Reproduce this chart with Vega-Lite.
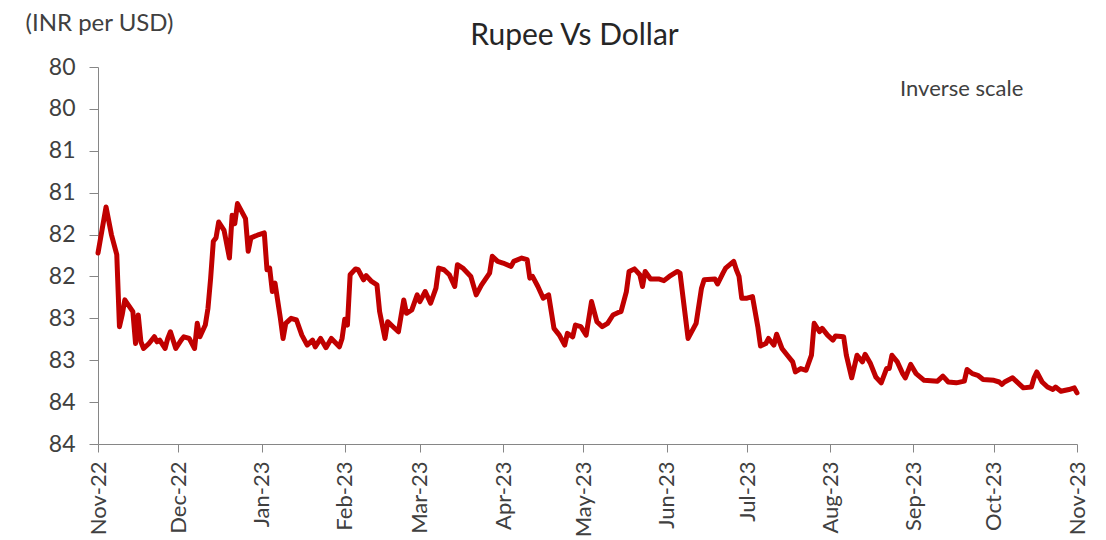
{
  "$schema": "https://vega.github.io/schema/vega-lite/v6.json",
  "autosize": "none",
  "width": 979,
  "height": 377,
  "padding": {"left": 98, "top": 67, "right": 29, "bottom": 96},
  "background": "white",
  "config": {
    "view": {"stroke": null},
    "font": "Lato"
  },
  "title": {
    "text": "Rupee Vs Dollar",
    "anchor": "middle",
    "fontSize": 30,
    "fontWeight": "normal",
    "color": "#262626",
    "font": "Lato",
    "dx": -13,
    "offset": 0,
    "dy": 40
  },
  "datasets": {
    "fx": [
      {"date": "2022-11-01", "rate": 81.72},
      {"date": "2022-11-04", "rate": 81.17},
      {"date": "2022-11-06", "rate": 81.50},
      {"date": "2022-11-08", "rate": 81.74},
      {"date": "2022-11-09", "rate": 82.60},
      {"date": "2022-11-10", "rate": 82.46},
      {"date": "2022-11-11", "rate": 82.28},
      {"date": "2022-11-14", "rate": 82.42},
      {"date": "2022-11-15", "rate": 82.80},
      {"date": "2022-11-16", "rate": 82.46},
      {"date": "2022-11-17", "rate": 82.78},
      {"date": "2022-11-18", "rate": 82.86},
      {"date": "2022-11-20", "rate": 82.80},
      {"date": "2022-11-22", "rate": 82.72},
      {"date": "2022-11-23", "rate": 82.78},
      {"date": "2022-11-24", "rate": 82.76},
      {"date": "2022-11-26", "rate": 82.86},
      {"date": "2022-11-27", "rate": 82.74},
      {"date": "2022-11-28", "rate": 82.66},
      {"date": "2022-11-30", "rate": 82.86},
      {"date": "2022-12-02", "rate": 82.76},
      {"date": "2022-12-03", "rate": 82.72},
      {"date": "2022-12-05", "rate": 82.74},
      {"date": "2022-12-07", "rate": 82.86},
      {"date": "2022-12-08", "rate": 82.56},
      {"date": "2022-12-09", "rate": 82.72},
      {"date": "2022-12-11", "rate": 82.58},
      {"date": "2022-12-12", "rate": 82.38},
      {"date": "2022-12-13", "rate": 82.02},
      {"date": "2022-12-14", "rate": 81.58},
      {"date": "2022-12-15", "rate": 81.54},
      {"date": "2022-12-16", "rate": 81.35},
      {"date": "2022-12-18", "rate": 81.45},
      {"date": "2022-12-20", "rate": 81.78},
      {"date": "2022-12-21", "rate": 81.27},
      {"date": "2022-12-22", "rate": 81.37},
      {"date": "2022-12-23", "rate": 81.13},
      {"date": "2022-12-26", "rate": 81.31},
      {"date": "2022-12-27", "rate": 81.70},
      {"date": "2022-12-28", "rate": 81.54},
      {"date": "2022-12-31", "rate": 81.50},
      {"date": "2023-01-02", "rate": 81.48},
      {"date": "2023-01-03", "rate": 81.92},
      {"date": "2023-01-04", "rate": 81.90},
      {"date": "2023-01-05", "rate": 82.18},
      {"date": "2023-01-06", "rate": 82.08},
      {"date": "2023-01-08", "rate": 82.50},
      {"date": "2023-01-09", "rate": 82.74},
      {"date": "2023-01-10", "rate": 82.56},
      {"date": "2023-01-12", "rate": 82.50},
      {"date": "2023-01-14", "rate": 82.52},
      {"date": "2023-01-16", "rate": 82.70},
      {"date": "2023-01-18", "rate": 82.82},
      {"date": "2023-01-20", "rate": 82.76},
      {"date": "2023-01-21", "rate": 82.84},
      {"date": "2023-01-23", "rate": 82.74},
      {"date": "2023-01-25", "rate": 82.85},
      {"date": "2023-01-27", "rate": 82.74},
      {"date": "2023-01-30", "rate": 82.84},
      {"date": "2023-01-31", "rate": 82.74},
      {"date": "2023-02-01", "rate": 82.51},
      {"date": "2023-02-02", "rate": 82.58},
      {"date": "2023-02-03", "rate": 81.98},
      {"date": "2023-02-05", "rate": 81.91},
      {"date": "2023-02-06", "rate": 81.92},
      {"date": "2023-02-08", "rate": 82.04},
      {"date": "2023-02-09", "rate": 81.99},
      {"date": "2023-02-11", "rate": 82.06},
      {"date": "2023-02-13", "rate": 82.10},
      {"date": "2023-02-14", "rate": 82.42},
      {"date": "2023-02-16", "rate": 82.74},
      {"date": "2023-02-17", "rate": 82.54},
      {"date": "2023-02-19", "rate": 82.60},
      {"date": "2023-02-21", "rate": 82.66},
      {"date": "2023-02-23", "rate": 82.28},
      {"date": "2023-02-24", "rate": 82.44},
      {"date": "2023-02-26", "rate": 82.40},
      {"date": "2023-02-28", "rate": 82.22},
      {"date": "2023-03-01", "rate": 82.30},
      {"date": "2023-03-03", "rate": 82.18},
      {"date": "2023-03-05", "rate": 82.32},
      {"date": "2023-03-07", "rate": 82.14},
      {"date": "2023-03-08", "rate": 81.90},
      {"date": "2023-03-10", "rate": 81.92},
      {"date": "2023-03-12", "rate": 81.98},
      {"date": "2023-03-14", "rate": 82.12},
      {"date": "2023-03-15", "rate": 81.86},
      {"date": "2023-03-17", "rate": 81.90},
      {"date": "2023-03-20", "rate": 82.00},
      {"date": "2023-03-22", "rate": 82.22},
      {"date": "2023-03-24", "rate": 82.10},
      {"date": "2023-03-27", "rate": 81.96},
      {"date": "2023-03-28", "rate": 81.76},
      {"date": "2023-03-30", "rate": 81.82},
      {"date": "2023-04-01", "rate": 81.84},
      {"date": "2023-04-04", "rate": 81.88},
      {"date": "2023-04-05", "rate": 81.82},
      {"date": "2023-04-08", "rate": 81.78},
      {"date": "2023-04-10", "rate": 81.80},
      {"date": "2023-04-11", "rate": 82.02},
      {"date": "2023-04-12", "rate": 82.00},
      {"date": "2023-04-14", "rate": 82.12},
      {"date": "2023-04-16", "rate": 82.26},
      {"date": "2023-04-18", "rate": 82.22},
      {"date": "2023-04-20", "rate": 82.62},
      {"date": "2023-04-22", "rate": 82.70},
      {"date": "2023-04-24", "rate": 82.82},
      {"date": "2023-04-25", "rate": 82.68},
      {"date": "2023-04-27", "rate": 82.72},
      {"date": "2023-04-28", "rate": 82.58},
      {"date": "2023-04-30", "rate": 82.60},
      {"date": "2023-05-02", "rate": 82.70},
      {"date": "2023-05-04", "rate": 82.30},
      {"date": "2023-05-06", "rate": 82.54},
      {"date": "2023-05-08", "rate": 82.60},
      {"date": "2023-05-10", "rate": 82.56},
      {"date": "2023-05-12", "rate": 82.46},
      {"date": "2023-05-14", "rate": 82.43},
      {"date": "2023-05-15", "rate": 82.42},
      {"date": "2023-05-17", "rate": 82.18},
      {"date": "2023-05-18", "rate": 81.94},
      {"date": "2023-05-20", "rate": 81.91},
      {"date": "2023-05-22", "rate": 81.98},
      {"date": "2023-05-23", "rate": 82.12},
      {"date": "2023-05-24", "rate": 81.94},
      {"date": "2023-05-26", "rate": 82.03},
      {"date": "2023-05-29", "rate": 82.03},
      {"date": "2023-05-31", "rate": 82.05},
      {"date": "2023-06-02", "rate": 82.00},
      {"date": "2023-06-05", "rate": 81.94},
      {"date": "2023-06-06", "rate": 81.96},
      {"date": "2023-06-09", "rate": 82.74},
      {"date": "2023-06-10", "rate": 82.68},
      {"date": "2023-06-12", "rate": 82.56},
      {"date": "2023-06-14", "rate": 82.14},
      {"date": "2023-06-15", "rate": 82.04},
      {"date": "2023-06-19", "rate": 82.03},
      {"date": "2023-06-20", "rate": 82.09},
      {"date": "2023-06-22", "rate": 81.96},
      {"date": "2023-06-23", "rate": 81.90},
      {"date": "2023-06-26", "rate": 81.82},
      {"date": "2023-06-27", "rate": 81.92},
      {"date": "2023-06-28", "rate": 82.00},
      {"date": "2023-06-29", "rate": 82.26},
      {"date": "2023-07-01", "rate": 82.26},
      {"date": "2023-07-03", "rate": 82.24},
      {"date": "2023-07-05", "rate": 82.60},
      {"date": "2023-07-06", "rate": 82.83},
      {"date": "2023-07-08", "rate": 82.80},
      {"date": "2023-07-09", "rate": 82.74},
      {"date": "2023-07-11", "rate": 82.82},
      {"date": "2023-07-12", "rate": 82.69},
      {"date": "2023-07-14", "rate": 82.86},
      {"date": "2023-07-16", "rate": 82.94},
      {"date": "2023-07-18", "rate": 83.02},
      {"date": "2023-07-19", "rate": 83.14},
      {"date": "2023-07-21", "rate": 83.10},
      {"date": "2023-07-23", "rate": 83.12},
      {"date": "2023-07-25", "rate": 82.94},
      {"date": "2023-07-26", "rate": 82.56},
      {"date": "2023-07-28", "rate": 82.66},
      {"date": "2023-07-29", "rate": 82.62},
      {"date": "2023-07-31", "rate": 82.70},
      {"date": "2023-08-02", "rate": 82.76},
      {"date": "2023-08-03", "rate": 82.71},
      {"date": "2023-08-06", "rate": 82.72},
      {"date": "2023-08-07", "rate": 82.94},
      {"date": "2023-08-09", "rate": 83.21},
      {"date": "2023-08-11", "rate": 82.94},
      {"date": "2023-08-13", "rate": 83.02},
      {"date": "2023-08-14", "rate": 82.93},
      {"date": "2023-08-16", "rate": 83.04},
      {"date": "2023-08-18", "rate": 83.20},
      {"date": "2023-08-20", "rate": 83.27},
      {"date": "2023-08-22", "rate": 83.10},
      {"date": "2023-08-23", "rate": 83.10},
      {"date": "2023-08-24", "rate": 82.94},
      {"date": "2023-08-26", "rate": 83.02},
      {"date": "2023-08-28", "rate": 83.16},
      {"date": "2023-08-29", "rate": 83.21},
      {"date": "2023-08-31", "rate": 83.05},
      {"date": "2023-09-02", "rate": 83.16},
      {"date": "2023-09-05", "rate": 83.24},
      {"date": "2023-09-10", "rate": 83.25},
      {"date": "2023-09-12", "rate": 83.19},
      {"date": "2023-09-14", "rate": 83.26},
      {"date": "2023-09-17", "rate": 83.27},
      {"date": "2023-09-20", "rate": 83.25},
      {"date": "2023-09-21", "rate": 83.11},
      {"date": "2023-09-23", "rate": 83.16},
      {"date": "2023-09-25", "rate": 83.18},
      {"date": "2023-09-27", "rate": 83.23},
      {"date": "2023-10-01", "rate": 83.24},
      {"date": "2023-10-03", "rate": 83.26},
      {"date": "2023-10-04", "rate": 83.29},
      {"date": "2023-10-05", "rate": 83.26},
      {"date": "2023-10-08", "rate": 83.21},
      {"date": "2023-10-10", "rate": 83.27},
      {"date": "2023-10-12", "rate": 83.33},
      {"date": "2023-10-15", "rate": 83.32},
      {"date": "2023-10-16", "rate": 83.21},
      {"date": "2023-10-17", "rate": 83.14},
      {"date": "2023-10-19", "rate": 83.26},
      {"date": "2023-10-21", "rate": 83.32},
      {"date": "2023-10-23", "rate": 83.35},
      {"date": "2023-10-24", "rate": 83.32},
      {"date": "2023-10-26", "rate": 83.37},
      {"date": "2023-10-29", "rate": 83.35},
      {"date": "2023-10-31", "rate": 83.33},
      {"date": "2023-11-01", "rate": 83.39}
    ],
    "note": [
      {"date": "2023-09-19", "rate": 79.76, "label": "Inverse scale"}
    ]
  },
  "layer": [
    {
      "data": {"name": "fx"},
      "mark": {"type": "line", "color": "#C00000", "strokeWidth": 5, "strokeJoin": "round", "strokeCap": "round"},
      "encoding": {
        "x": {
          "field": "date",
          "type": "temporal",
          "scale": {
            "type": "utc",
            "domain": [
              {"year": 2022, "month": 11, "date": 1, "utc": true},
              {"year": 2023, "month": 11, "date": 1, "utc": true}
            ],
            "nice": false
          },
          "axis": {
            "title": null,
            "labelExpr": "utcFormat(datum.value, '%b-%y')",
            "values": [
              {"year": 2022, "month": 11, "date": 1, "utc": true},
              {"year": 2022, "month": 12, "date": 1, "utc": true},
              {"year": 2023, "month": 1, "date": 1, "utc": true},
              {"year": 2023, "month": 2, "date": 1, "utc": true},
              {"year": 2023, "month": 3, "date": 1, "utc": true},
              {"year": 2023, "month": 4, "date": 1, "utc": true},
              {"year": 2023, "month": 5, "date": 1, "utc": true},
              {"year": 2023, "month": 6, "date": 1, "utc": true},
              {"year": 2023, "month": 7, "date": 1, "utc": true},
              {"year": 2023, "month": 8, "date": 1, "utc": true},
              {"year": 2023, "month": 9, "date": 1, "utc": true},
              {"year": 2023, "month": 10, "date": 1, "utc": true},
              {"year": 2023, "month": 11, "date": 1, "utc": true}
            ],
            "labelAngle": -90,
            "labelFontSize": 22,
            "labelColor": "#404040",
            "labelFont": "Lato",
            "labelPadding": 9,
            "labelOverlap": false,
            "labelFlush": false,
            "labelBound": false,
            "tickSize": 8,
            "tickColor": "#868686",
            "domainColor": "#868686",
            "grid": false
          }
        },
        "y": {
          "field": "rate",
          "type": "quantitative",
          "scale": {"domain": [79.5, 84], "reverse": true, "zero": false, "nice": false},
          "axis": {
            "title": "(INR per USD)",
            "titleAngle": 0,
            "titleAlign": "left",
            "titleBaseline": "middle",
            "titleX": -73,
            "titleY": -44,
            "titleFontSize": 24,
            "titleFontWeight": "normal",
            "titleColor": "#404040",
            "titleFont": "Lato",
            "values": [79.5, 80, 80.5, 81, 81.5, 82, 82.5, 83, 83.5, 84],
            "format": ".0f",
            "labelFontSize": 23,
            "labelColor": "#404040",
            "labelFont": "Lato",
            "labelPadding": 14,
            "tickSize": 9,
            "tickColor": "#868686",
            "domainColor": "#868686",
            "grid": false
          }
        }
      }
    },
    {
      "data": {"name": "note"},
      "mark": {"type": "text", "fontSize": 22, "color": "#404040", "font": "Lato", "align": "center", "baseline": "middle"},
      "encoding": {
        "x": {"field": "date", "type": "temporal"},
        "y": {"field": "rate", "type": "quantitative"},
        "text": {"field": "label"}
      }
    }
  ]
}
